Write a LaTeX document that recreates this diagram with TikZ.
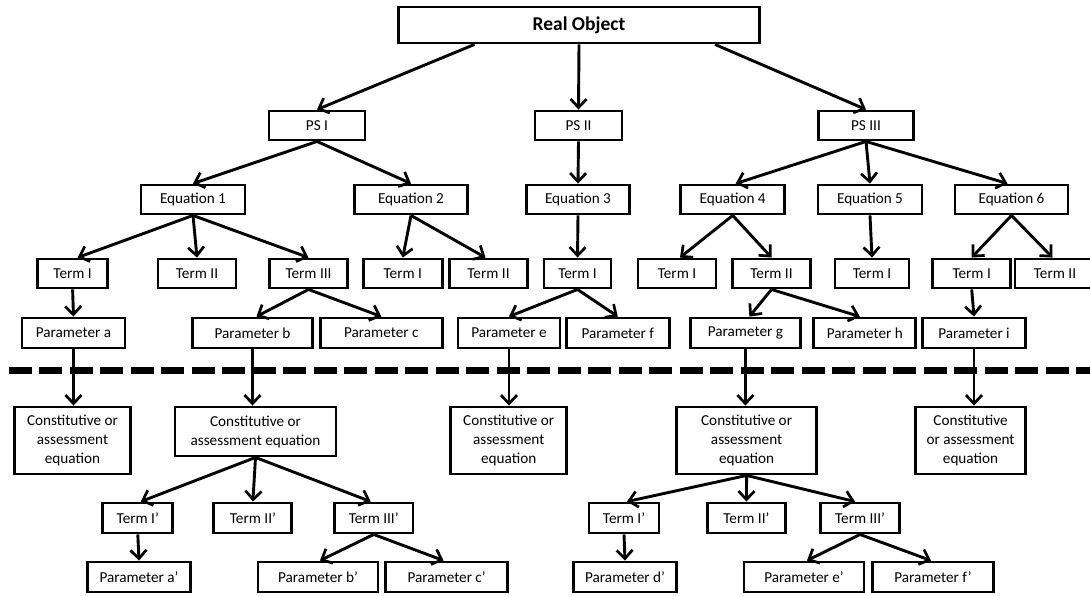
\documentclass[tikz,border=0pt]{standalone}
\usepackage{fontspec}
\setmainfont{Carlito}
\usetikzlibrary{arrows.meta}

\begin{document}
\begin{tikzpicture}[x=1pt,y=-1pt,
  box/.style={draw,line width=2.9pt,inner sep=0pt,minimum height=29pt,
    align=center,font=\fontsize{15.2}{19}\selectfont},
  tall/.style={box,minimum height=67pt},
  link/.style={line width=2.9pt,-{Straight Barb[length=8.5pt,width=16pt,line width=2.7pt]}},
  cut/.style={line width=7pt,dash pattern=on 23pt off 7.5pt}
]
\useasboundingbox (0,0) rectangle (1090,596);

% root
\node[box,minimum width=361pt,minimum height=36pt,font=\fontsize{19.5}{22}\selectfont\bfseries] (ro) at (579,25) {Real Object};

% problem statements
\node[box,minimum width=96pt] (ps1) at (317,125.5) {PS I};
\node[box,minimum width=87pt] (ps2) at (578.5,125.5) {PS II};
\node[box,minimum width=95pt] (ps3) at (866,125.5) {PS III};

% equations
\node[box,minimum width=104pt] (eq1) at (193,199.5) {Equation 1};
\node[box,minimum width=113pt] (eq2) at (411,199.5) {Equation 2};
\node[box,minimum width=103pt] (eq3) at (578,199.5) {Equation 3};
\node[box,minimum width=104pt] (eq4) at (732.7,199.5) {Equation 4};
\node[box,minimum width=104pt] (eq5) at (870,199.5) {Equation 5};
\node[box,minimum width=113pt] (eq6) at (1011.5,199.5) {Equation 6};

% terms
\node[box,minimum width=70pt] (t11) at (72.6,273.5) {Term I};
\node[box,minimum width=78pt] (t12) at (197,273.5) {Term II};
\node[box,minimum width=78pt] (t13) at (308.5,273.5) {Term III};
\node[box,minimum width=79pt] (t21) at (402.8,273.5) {Term I};
\node[box,minimum width=78pt] (t22) at (488.5,273.5) {Term II};
\node[box,minimum width=67pt] (t31) at (577.5,273.5) {Term I};
\node[box,minimum width=78pt] (t41) at (677,273.5) {Term I};
\node[box,minimum width=77.5pt] (t42) at (771.5,273.5) {Term II};
\node[box,minimum width=74pt] (t51) at (872,273.5) {Term I};
\node[box,minimum width=78pt] (t61) at (971.7,273.5) {Term I};
\node[box,minimum width=80pt] (t62) at (1055,273.5) {Term II};

% parameters
\node[box,minimum width=103pt,minimum height=30pt] (pa) at (73.5,333) {Parameter a};
\node[box,minimum width=120.6pt,minimum height=30pt] (pb) at (252.5,333) {Parameter b};
\node[box,minimum width=121.6pt,minimum height=30pt] (pc) at (381.3,333) {Parameter c};
\node[box,minimum width=102pt,minimum height=30pt] (pe) at (509,333) {Parameter e};
\node[box,minimum width=102.5pt,minimum height=30pt] (pf) at (617.8,333) {Parameter f};
\node[box,minimum width=110pt,minimum height=30pt] (pg) at (745.4,333) {Parameter g};
\node[box,minimum width=102pt,minimum height=30pt] (ph) at (864.8,333) {Parameter h};
\node[box,minimum width=103pt,minimum height=30pt] (pi) at (974,333) {Parameter i};

% separating line
\coordinate (cutL) at (8.7,370.5);
\coordinate (cutR) at (1095,370.5);
\draw[cut] (cutL) -- (cutR);

% constitutive / assessment equations
\node[tall,minimum width=115.7pt] (c1) at (72.5,440.5) {Constitutive or\\assessment\\equation};
\node[box,minimum width=161pt,minimum height=49pt] (c2) at (255.5,431.5) {Constitutive or\\assessment equation};
\node[tall,minimum width=116pt] (c3) at (508.7,440.5) {Constitutive or\\assessment\\equation};
\node[tall,minimum width=140pt] (c4) at (746.6,440.5) {Constitutive or\\assessment\\equation};
\node[tall,minimum width=110.5pt] (c5) at (970.5,440.5) {Constitutive\\or assessment\\equation};

% primed terms
\node[box,minimum width=70pt,minimum height=30pt] (lt1) at (137.8,518) {Term I’};
\node[box,minimum width=78pt,minimum height=30pt] (lt2) at (252.9,518) {Term II’};
\node[box,minimum width=78.6pt,minimum height=30pt] (lt3) at (373.7,518) {Term III’};
\node[box,minimum width=70pt,minimum height=30pt] (rt1) at (624,518) {Term I’};
\node[box,minimum width=78pt,minimum height=30pt] (rt2) at (746.4,518) {Term II’};
\node[box,minimum width=79pt,minimum height=30pt] (rt3) at (860,518) {Term III’};

% primed parameters
\node[box,minimum width=103pt,minimum height=30pt] (qa) at (139,577) {Parameter a’};
\node[box,minimum width=120pt,minimum height=30pt] (qb) at (318,577) {Parameter b’};
\node[box,minimum width=121.7pt,minimum height=30pt] (qc) at (446.6,577) {Parameter c’};
\node[box,minimum width=102.6pt,minimum height=30pt] (qd) at (625,577) {Parameter d’};
\node[box,minimum width=120pt,minimum height=30pt] (qe) at (804,577) {Parameter e’};
\node[box,minimum width=121pt,minimum height=30pt] (qf) at (933,577) {Parameter f’};

% connectors
\draw[link] ([xshift=-104.5pt]ro.south) -- (ps1.north);
\draw[link] (ro.south) -- (ps2.north);
\draw[link] ([xshift=136pt]ro.south) -- (ps3.north);

\draw[link] (ps1.south) -- (eq1.north);
\draw[link] (ps1.south) -- (eq2.north);
\draw[link] (ps2.south) -- (eq3.north);
\draw[link] (ps3.south) -- ([xshift=3pt]eq4.north);
\draw[link] (ps3.south) -- (eq5.north);
\draw[link] (ps3.south) -- ([xshift=-4pt]eq6.north);

\draw[link] (eq1.south) -- ([xshift=5pt]t11.north);
\draw[link] (eq1.south) -- (t12.north);
\draw[link] (eq1.south) -- (t13.north);
\draw[link] (eq2.south) -- (t21.north);
\draw[link] (eq2.south) -- ([xshift=-3pt]t22.north);
\draw[link] (eq3.south) -- (t31.north);
\draw[link] (eq4.south) -- ([xshift=3pt]t41.north);
\draw[link] (eq4.south) -- (t42.north);
\draw[link] (eq5.south) -- (t51.north);
\draw[link] (eq6.south) -- (t61.north);
\draw[link] (eq6.south) -- ([xshift=-2.5pt]t62.north);

\draw[link] (t11.south) -- (pa.north);
\draw[link] (t13.south) -- ([xshift=4pt]pb.north);
\draw[link] (t13.south) -- (pc.north);
\draw[link] (t31.south) -- (pe.north);
\draw[link] (t31.south) -- (pf.north);
\draw[link] (t42.south) -- ([xshift=4pt]pg.north);
\draw[link] (t42.south) -- ([xshift=-5pt]ph.north);
\draw[link] (t61.south) -- (pi.north);

\draw[link] (pa.south) -- (pa.south |- c1.north);
\draw[link] (pb.south) -- (pb.south |- c2.north);
\draw[link] (pe.south) -- (pe.south |- c3.north);
\draw[link] (pg.south) -- (pg.south |- c4.north);
\draw[link] (pi.south) -- (pi.south |- c5.north);

\draw[link] (c2.south) -- ([xshift=3pt]lt1.north);
\draw[link] (c2.south) -- (lt2.north);
\draw[link] (c2.south) -- ([xshift=-3pt]lt3.north);
\draw[link] (c4.south) -- ([xshift=3pt]rt1.north);
\draw[link] (c4.south) -- (rt2.north);
\draw[link] (c4.south) -- ([xshift=-5pt]rt3.north);

\draw[link] (lt1.south) -- (qa.north);
\draw[link] (lt3.south) -- ([xshift=2pt]qb.north);
\draw[link] (lt3.south) -- ([xshift=-3pt]qc.north);
\draw[link] (rt1.south) -- (qd.north);
\draw[link] (rt3.south) -- ([xshift=3pt]qe.north);
\draw[link] (rt3.south) -- ([xshift=-2pt]qf.north);
\end{tikzpicture}
\end{document}
